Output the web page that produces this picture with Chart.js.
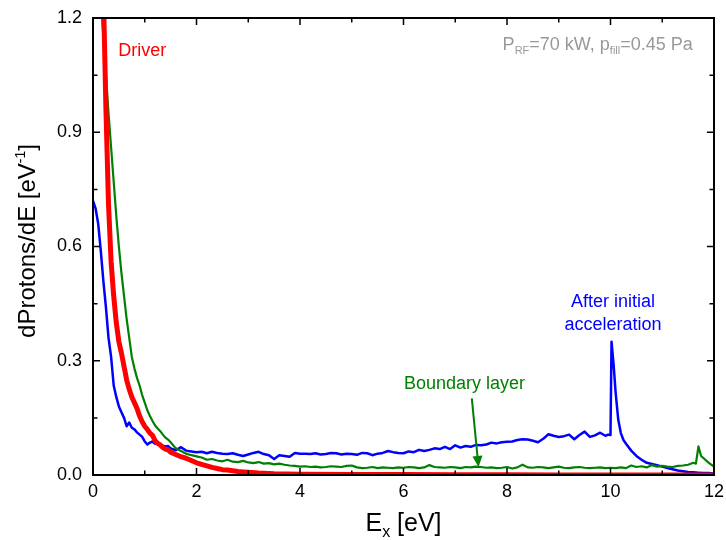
<!DOCTYPE html>
<html>
<head>
<meta charset="utf-8">
<script src="https://cdn.jsdelivr.net/npm/chart.js@4/dist/chart.umd.min.js"></script>
<style>
html,body{margin:0;padding:0;background:#fff;}
#wrap{width:726px;height:540px;}
</style>
</head>
<body>
<div id="wrap"><canvas id="c" width="726" height="540"></canvas></div>
<script>
// ---- Data ----
const driverE = [0.1,0.15,0.2,0.25,0.3,0.35,0.4,0.45,0.5,0.55,0.6,0.65,0.7,0.75,0.8,0.85,0.9,0.95,1.0,1.05,1.1,1.15,1.2,1.25,1.3,1.35,1.4,1.45,1.5,
  1.6,1.7,1.8,1.9,2.0,2.1,2.2,2.3,2.4,2.5,2.6,2.7,2.8,2.9,3.0,3.2,3.5,4.0,5.0,6.0,7.0,8.0,9.0,10.0,11.0,12.0];
const driverY = [1.75,1.52,1.27,0.96,0.71,0.56,0.47,0.40,0.35,0.32,0.285,0.25,0.225,0.205,0.19,0.175,0.155,0.14,0.128,0.12,0.11,0.104,0.09,0.083,0.079,0.072,0.068,0.066,0.06,
  0.054,0.048,0.044,0.038,0.032,0.028,0.024,0.02,0.017,0.014,0.013,0.011,0.009,0.008,0.007,0.005,0.003,0.002,0.001,0.001,0.0005,0.0005,0.0003,0.0003,0.0002,0.0002];

const boundaryE = [0.1,0.15,0.2,0.25,0.3,0.35,0.4,0.45,0.5,0.55,0.6,0.65,0.7,0.75,0.8,0.85,0.9,0.95,1.0,1.05,1.1,1.15,1.2,1.25,1.3,1.35,1.4,1.45,1.5,
  1.6,1.7,1.8,1.9,2.0,2.1,2.2,2.3,2.4,2.5,2.6,2.7,2.8,2.9,3.0,3.1,3.2,3.3,3.4,3.5,3.6,3.7,3.8,3.9,
  4.0,4.1,4.2,4.3,4.4,4.5,4.6,4.7,4.8,4.9,5.0,5.1,5.2,5.3,5.4,5.5,5.6,5.7,5.8,5.9,
  6.0,6.1,6.2,6.3,6.4,6.5,6.6,6.7,6.8,6.9,7.0,7.1,7.2,7.3,7.4,7.5,7.6,7.7,7.8,7.9,
  8.0,8.1,8.2,8.3,8.4,8.5,8.6,8.7,8.8,8.9,9.0,9.1,9.2,9.3,9.4,9.5,9.6,9.7,9.8,9.9,
  10.0,10.1,10.2,10.3,10.4,10.5,10.6,10.7,10.8,10.9,11.0,11.1,11.2,11.3,11.4,11.5,11.6,11.65,11.7,11.75,11.8,11.9,12.0];
const boundaryY = [1.42,1.26,1.15,1.05,0.95,0.86,0.77,0.68,0.60,0.53,0.47,0.41,0.36,0.31,0.28,0.255,0.235,0.21,0.19,0.17,0.155,0.142,0.13,0.122,0.115,0.106,0.098,0.093,0.086,
  0.07,0.063,0.056,0.052,0.049,0.046,0.040,0.042,0.038,0.036,0.040,0.035,0.034,0.037,0.033,0.031,0.034,0.030,0.031,0.028,0.030,0.027,0.025,0.024,
  0.022,0.023,0.021,0.022,0.020,0.021,0.023,0.022,0.021,0.024,0.025,0.020,0.018,0.019,0.021,0.018,0.020,0.019,0.018,0.020,
  0.019,0.021,0.020,0.018,0.020,0.026,0.021,0.020,0.019,0.021,0.020,0.018,0.021,0.020,0.022,0.021,0.019,0.020,0.018,0.019,
  0.021,0.017,0.020,0.027,0.020,0.019,0.021,0.020,0.018,0.020,0.022,0.019,0.018,0.020,0.021,0.019,0.018,0.019,0.020,0.018,
  0.019,0.018,0.020,0.018,0.025,0.021,0.023,0.020,0.026,0.022,0.024,0.022,0.021,0.024,0.025,0.027,0.032,0.030,0.075,0.050,0.044,0.032,0.022];

const accelE = [0,0.05,0.1,0.15,0.2,0.25,0.3,0.35,0.4,0.45,0.5,0.55,0.6,0.65,0.7,0.75,0.8,0.85,0.9,0.95,1.0,1.05,1.1,1.15,1.2,1.25,1.3,1.35,1.4,1.45,1.5,
  1.6,1.7,1.8,1.9,2.0,2.1,2.2,2.3,2.4,2.5,2.6,2.7,2.8,2.9,3.0,3.1,3.2,3.3,3.4,3.5,3.6,3.7,3.8,3.9,
  4.0,4.1,4.2,4.3,4.4,4.5,4.6,4.7,4.8,4.9,5.0,5.1,5.2,5.3,5.4,5.5,5.6,5.7,5.8,5.9,
  6.0,6.1,6.2,6.3,6.4,6.5,6.6,6.7,6.8,6.9,7.0,7.1,7.2,7.3,7.4,7.5,7.6,7.7,7.8,7.9,
  8.0,8.1,8.2,8.3,8.4,8.5,8.6,8.7,8.8,8.9,9.0,9.1,9.2,9.3,9.4,9.5,9.6,9.7,9.8,9.9,9.95,10.0,
  10.02,10.06,10.1,10.15,10.2,10.25,10.3,10.4,10.5,10.6,10.7,10.8,10.9,11.0,11.1,11.2,11.3,11.4,11.5,11.6,11.7,11.8,11.9,12.0];
const accelY = [0.72,0.70,0.66,0.59,0.51,0.44,0.36,0.31,0.235,0.205,0.18,0.165,0.15,0.128,0.138,0.124,0.12,0.112,0.106,0.10,0.088,0.08,0.085,0.088,0.082,0.086,0.08,0.077,0.075,0.076,0.07,
  0.065,0.073,0.064,0.062,0.060,0.061,0.057,0.061,0.058,0.056,0.055,0.057,0.053,0.050,0.054,0.058,0.061,0.055,0.052,0.042,0.052,0.050,0.048,0.058,
  0.056,0.056,0.055,0.057,0.054,0.055,0.058,0.057,0.054,0.056,0.055,0.053,0.058,0.057,0.052,0.056,0.058,0.063,0.060,0.058,
  0.057,0.062,0.060,0.066,0.063,0.066,0.070,0.068,0.074,0.068,0.078,0.072,0.076,0.074,0.079,0.078,0.080,0.085,0.083,0.086,
  0.087,0.088,0.092,0.094,0.093,0.090,0.086,0.095,0.107,0.103,0.100,0.102,0.106,0.094,0.105,0.114,0.100,0.104,0.111,0.103,0.106,0.105,
  0.35,0.29,0.215,0.145,0.11,0.092,0.082,0.064,0.05,0.04,0.032,0.029,0.026,0.022,0.018,0.015,0.012,0.010,0.008,0.007,0.006,0.005,0.005,0.004];

const xTickLabels = ['0','2','4','6','8','10','12'];
const yTickLabels = ['0.0','0.3','0.6','0.9','1.2'];

// annotation anchors in data units
const notes = {
  driver: {x:0.49, y:1.112},
  cond: {x:11.59, y:1.116},
  accel1: {x:10.05, y:0.454},
  accel2: {x:10.05, y:0.394},
  boundary: {x:7.18, y:0.239},
  arrowFrom: {x:7.32, y:0.201},
  arrowTo: {x:7.45, y:0.021}
};

const FONT = '"Liberation Sans", Arial, Helvetica, sans-serif';
const pts = (xs, ys) => xs.map((v, i) => ({x: v, y: ys[i]}));

function drawRich(ctx, segs, x, y, align) {
  const widths = segs.map(s => { ctx.font = s.s + 'px ' + FONT; return ctx.measureText(s.t).width; });
  const total = widths.reduce((a, b) => a + b, 0);
  let cx = align === 'right' ? x - total : align === 'center' ? x - total / 2 : x;
  ctx.textAlign = 'left';
  ctx.textBaseline = 'alphabetic';
  segs.forEach((s, i) => {
    ctx.font = s.s + 'px ' + FONT;
    ctx.fillText(s.t, cx, y + (s.dy || 0));
    cx += widths[i];
  });
}

const deco = {
  id: 'deco',
  afterDatasetsDraw(chart) {
    const {ctx, chartArea: a, scales: {x, y}} = chart;
    ctx.save();
    // ticks (inward) on all four sides + tick labels
    ctx.strokeStyle = '#000';
    ctx.fillStyle = '#000';
    ctx.lineWidth = 1.5;
    ctx.font = '18px ' + FONT;
    x.ticks.forEach((t, i) => {
      const px = x.getPixelForValue(t.value);
      const major = i % 2 === 0;
      const len = major ? 7 : 4.5;
      ctx.beginPath();
      ctx.moveTo(px, a.bottom); ctx.lineTo(px, a.bottom - len);
      ctx.moveTo(px, a.top); ctx.lineTo(px, a.top + len);
      ctx.stroke();
      if (major) {
        ctx.textAlign = 'center'; ctx.textBaseline = 'middle';
        ctx.fillText(xTickLabels[i / 2], px, a.bottom + 17);
      }
    });
    y.ticks.forEach((t, i) => {
      const py = y.getPixelForValue(t.value);
      const major = i % 2 === 0;
      const len = major ? 7 : 4.5;
      ctx.beginPath();
      ctx.moveTo(a.left, py); ctx.lineTo(a.left + len, py);
      ctx.moveTo(a.right, py); ctx.lineTo(a.right - len, py);
      ctx.stroke();
      if (major) {
        ctx.textAlign = 'right'; ctx.textBaseline = 'middle';
        ctx.fillText(yTickLabels[i / 2], a.left - 11, py);
      }
    });
    // frame
    ctx.lineWidth = 2;
    ctx.strokeRect(a.left, a.top, a.right - a.left, a.bottom - a.top);

    // annotations
    const P = p => [x.getPixelForValue(p.x), y.getPixelForValue(p.y)];
    ctx.fillStyle = '#ff0000';
    ctx.font = '18px ' + FONT;
    ctx.textAlign = 'left'; ctx.textBaseline = 'middle';
    let q = P(notes.driver);
    ctx.fillText('Driver', q[0], q[1]);

    ctx.fillStyle = '#0000ff';
    ctx.textAlign = 'center';
    q = P(notes.accel1); ctx.fillText('After initial', q[0], q[1]);
    q = P(notes.accel2); ctx.fillText('acceleration', q[0], q[1]);

    ctx.fillStyle = '#008000';
    q = P(notes.boundary); ctx.fillText('Boundary layer', q[0], q[1]);

    // arrow
    const f = P(notes.arrowFrom), t2 = P(notes.arrowTo);
    const ang = Math.atan2(t2[1] - f[1], t2[0] - f[0]);
    const hl = 11, hw = 5;
    const bx = t2[0] - hl * Math.cos(ang), by = t2[1] - hl * Math.sin(ang);
    ctx.strokeStyle = '#008000'; ctx.lineWidth = 2;
    ctx.beginPath(); ctx.moveTo(f[0], f[1]); ctx.lineTo(bx, by); ctx.stroke();
    ctx.beginPath();
    ctx.moveTo(t2[0], t2[1]);
    ctx.lineTo(bx + hw * Math.sin(ang), by - hw * Math.cos(ang));
    ctx.lineTo(bx - hw * Math.sin(ang), by + hw * Math.cos(ang));
    ctx.closePath(); ctx.fill();

    // condition text
    ctx.fillStyle = '#999999';
    q = P(notes.cond);
    drawRich(ctx, [
      {t:'P', s:18}, {t:'RF', s:11, dy:4}, {t:'=70 kW, p', s:18}, {t:'fill', s:11, dy:4}, {t:'=0.45 Pa', s:18}
    ], q[0], q[1], 'right');

    // axis titles
    ctx.fillStyle = '#000';
    drawRich(ctx, [{t:'E', s:25}, {t:'x', s:16, dy:6}, {t:' [eV]', s:25}], (a.left + a.right) / 2, 531, 'center');
    ctx.translate(35, 241);
    ctx.rotate(-Math.PI / 2);
    drawRich(ctx, [{t:'dProtons/dE [eV', s:24}, {t:'-1', s:14, dy:-10}, {t:']', s:24}], 0, 0, 'center');
    ctx.restore();
  }
};

new Chart(document.getElementById('c'), {
  type: 'line',
  data: {
    datasets: [
      {label:'Driver', data: pts(driverE, driverY), borderColor:'#ff0000', borderWidth:5, pointRadius:0, order:0, borderJoinStyle:'round'},
      {label:'Boundary layer', data: pts(boundaryE, boundaryY), borderColor:'#008000', borderWidth:2.2, pointRadius:0, order:1, borderJoinStyle:'round'},
      {label:'After initial acceleration', data: pts(accelE, accelY), borderColor:'#0000ff', borderWidth:2.5, pointRadius:0, order:2, borderJoinStyle:'round'}
    ]
  },
  options: {
    responsive: false,
    devicePixelRatio: 1,
    animation: false,
    events: [],
    layout: {padding: {top: 18, right: 12, left: 0, bottom: 0}},
    plugins: {legend: {display: false}, tooltip: {enabled: false}},
    scales: {
      x: {
        type: 'linear', min: 0, max: 12,
        grid: {display: false, drawTicks: false},
        border: {display: false},
        ticks: {stepSize: 1, autoSkip: false, maxRotation: 0, display: false},
        afterFit: s => { s.height = 65; }
      },
      y: {
        type: 'linear', min: 0, max: 1.2,
        grid: {display: false, drawTicks: false},
        border: {display: false},
        ticks: {stepSize: 0.15, autoSkip: false, display: false},
        afterFit: s => { s.width = 93; }
      }
    }
  },
  plugins: [deco]
});
</script>
</body>
</html>
